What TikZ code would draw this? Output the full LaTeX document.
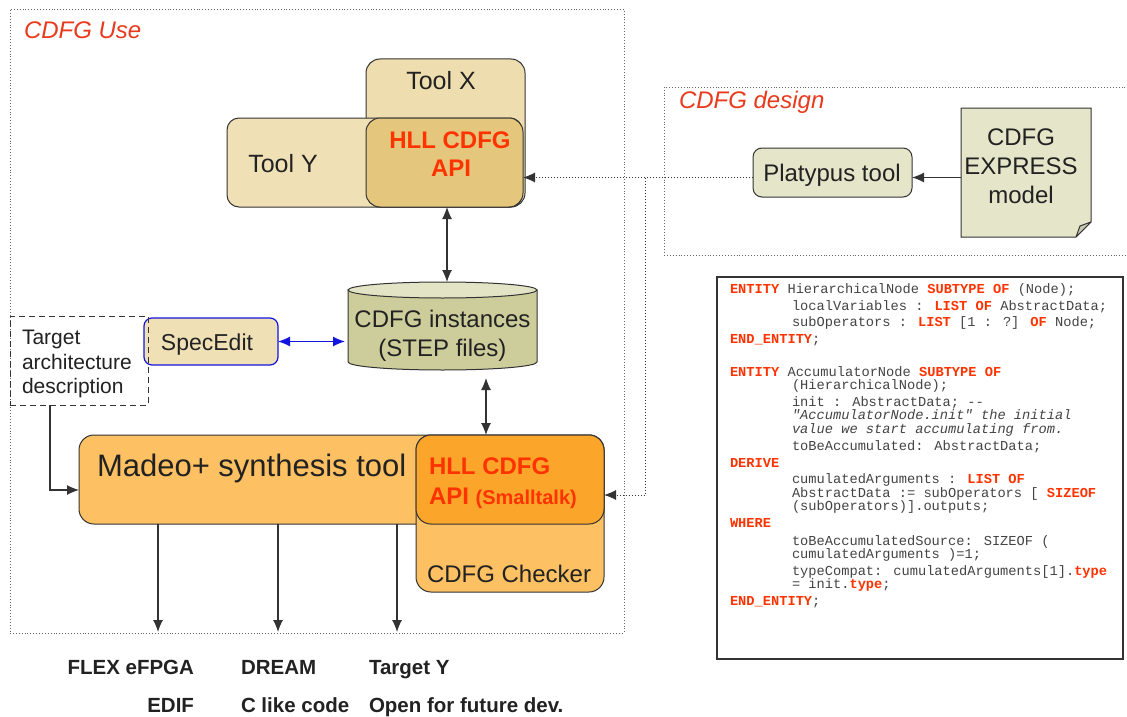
\documentclass[tikz,border=0pt]{standalone}
\usepackage{fontspec}
\setmainfont{Liberation Sans}
\newfontfamily\codefont{Liberation Mono}
\usetikzlibrary{arrows.meta}
\definecolor{dk}{HTML}{333333}
\definecolor{txt}{HTML}{222222}
\definecolor{redt}{HTML}{FF3300}
\definecolor{titler}{HTML}{E83A1C}
\definecolor{dotc}{HTML}{666666}
\definecolor{tanx}{HTML}{EEDDAE}
\definecolor{tany}{HTML}{F0E0B6}
\definecolor{tanapi}{HTML}{E4C67C}
\definecolor{platc}{HTML}{E5E5C9}
\definecolor{foldc}{HTML}{C9C9B0}
\definecolor{cylbody}{HTML}{CDCD9C}
\definecolor{cyltop}{HTML}{E3E3C5}
\definecolor{blueb}{HTML}{1414E0}
\definecolor{orl}{HTML}{FDC062}
\definecolor{ord}{HTML}{FBA62A}
\definecolor{codeg}{HTML}{444444}
\newcommand{\kw}[1]{\textcolor{redt}{\textbf{#1}}}
\newcommand{\fs}[1]{\fontsize{#1}{#1}\selectfont}
\begin{document}
\begin{tikzpicture}[x=1pt,y=-1pt,
  every node/.style={inner sep=0pt,outer sep=0pt},
  shp/.style={draw=dk,line width=1pt},
  lbl/.style={text=txt,anchor=base},
  ttl/.style={text=titler,anchor=base west,font=\fs{24}\itshape},
  redl/.style={text=redt,font=\fs{24}\bfseries},
  dotbox/.style={draw=dotc,dotted,line width=0.9pt},
  dotarr/.style={draw=dk,dotted,line width=1pt,-{Latex[length=12pt,width=10pt]}},
  arr/.style={draw=dk,line width=1.1pt,-{Latex[length=12pt,width=10pt]}},
  darr/.style={draw=dk,line width=1.1pt,{Latex[length=12pt,width=10pt]}-{Latex[length=12pt,width=10pt]}},
  barr/.style={draw=blueb,line width=1.2pt,{Latex[length=12pt,width=10pt]}-{Latex[length=12pt,width=10pt]}},
  code/.style={text=codeg,anchor=base west,font=\codefont\fs{13.7}},
  outl/.style={text=txt,font=\fs{20.5}\bfseries}
]
\useasboundingbox[fill=white] (0,0) rectangle (1127,717);

% group frames
\node[dotbox,minimum width=614,minimum height=624] (usebox) at (317,321) {};
\node[dotbox,minimum width=470,minimum height=168] (designbox) at (899,171) {};
\node[ttl] (usettl) at (24,38.6) {CDFG Use};
\node[ttl] (designttl) at (679,108.6) {CDFG design};

% Tool X / Tool Y / API
\node[shp,fill=tanx,rounded corners=14,minimum width=159,minimum height=148] (toolx) at (445.5,133) {};
\node[shp,fill=tany,rounded corners=12,minimum width=295,minimum height=89] (tooly) at (374.5,162.5) {};
\node[shp,fill=tanapi,rounded corners=14,minimum width=157,minimum height=89] (api) at (444.5,162.5) {};
\node[lbl,font=\fs{25}] (toolxl) at (441,89) {Tool X};
\node[lbl,font=\fs{25}] (toolyl) at (283,172) {Tool Y};
\node[redl,anchor=base] (apil1) at (450,148.6) {HLL CDFG};
\node[redl,anchor=base] (apil2) at (451,176.6) {API};

% Platypus and EXPRESS model
\node[shp,fill=platc,rounded corners=9,minimum width=159,minimum height=49] (plat) at (832.5,172.5) {};
\node[lbl,font=\fs{24}] (platl) at (832,181) {Platypus tool};
\draw[shp,fill=platc] (961,108) -- (1091,108) -- (1091,222) -- (1076,237) -- (961,237) -- cycle;
\draw[shp,fill=foldc,line join=round] (1091,222) -- (1076,237) -- (1080,226) -- cycle;
\node[minimum width=130,minimum height=129] (doc) at (1026,172.5) {};
\node[lbl,font=\fs{24}] (docl1) at (1021,145.6) {CDFG};
\node[lbl,font=\fs{24}] (docl2) at (1021,174.6) {EXPRESS};
\node[lbl,font=\fs{24}] (docl3) at (1021,203.6) {model};

% cylinder
\draw[shp,fill=cylbody] (348,290) -- (348,362) arc[start angle=180,end angle=0,x radius=94.5,y radius=8] -- (537,290) -- cycle;
\draw[shp,fill=cyltop] (442.5,290) ellipse[x radius=94.5,y radius=8];
\node[minimum width=189,minimum height=88] (cyl) at (442.5,326) {};
\node[lbl,font=\fs{24}] (cyll1) at (442.5,327.6) {CDFG instances};
\node[lbl,font=\fs{24}] (cyll2) at (442.5,356.6) {(STEP files)};

% SpecEdit and target
\node[draw=blueb,line width=1.2pt,fill=tany,rounded corners=8,minimum width=134,minimum height=47] (spec) at (211,341.5) {};
\node[lbl,font=\fs{23}] (specl) at (207,350) {SpecEdit};
\node[draw=dk,line width=1pt,dash pattern=on 6pt off 4pt,minimum width=138,minimum height=89] (target) at (79,360.5) {};
\node[lbl,anchor=base west,font=\fs{21}] (tgl1) at (22,344.5) {Target};
\node[lbl,anchor=base west,font=\fs{21}] (tgl2) at (22,369.5) {architecture};
\node[lbl,anchor=base west,font=\fs{21}] (tgl3) at (22,393.5) {description};

% Madeo / checker / API
\node[shp,fill=orl,rounded corners=15,minimum width=525,minimum height=89] (madeo) at (341.5,479.5) {};
\node[shp,fill=orl,rounded corners=15,minimum width=188,minimum height=157] (checker) at (510,513.5) {};
\node[shp,fill=ord,rounded corners=15,minimum width=188,minimum height=89] (mapi) at (510,479.5) {};
\node[lbl,anchor=base west,font=\fs{31}] (madeol) at (97,476) {Madeo+ synthesis tool};
\node[redl,anchor=base west] (mapil1) at (429,474.6) {HLL CDFG};
\node[redl,anchor=base west] (mapil2) at (429,504.6) {API \fs{20}(Smalltalk)};
\node[lbl,anchor=base west,font=\fs{24}] (checkl) at (427,582.6) {CDFG Checker};

% outputs
\node[outl,anchor=base east] (o1a) at (194,674.5) {FLEX eFPGA};
\node[outl,anchor=base east] (o1b) at (194,712.5) {EDIF};
\node[outl,anchor=base west] (o2a) at (241,674.5) {DREAM};
\node[outl,anchor=base west] (o2b) at (241,712.5) {C like code};
\node[outl,anchor=base west] (o3a) at (369,674.5) {Target Y};
\node[outl,anchor=base west] (o3b) at (369,712.5) {Open for future dev.};

% code box
\node[draw=dk,line width=1.3pt,minimum width=406,minimum height=382] (codebox) at (920,468) {};
\node[code] (c1) at (730,293) {\kw{ENTITY} HierarchicalNode \kw{SUBTYPE OF} (Node);};
\node[code] (c2) at (792,310) {localVariables : \kw{LIST OF} AbstractData;};
\node[code] (c3) at (792,326) {subOperators : \kw{LIST} [1 : ?] \kw{OF} Node;};
\node[code] (c4) at (730,343) {\kw{END\_ENTITY};};
\node[code] (c5) at (730,376) {\kw{ENTITY} AccumulatorNode \kw{SUBTYPE OF}};
\node[code] (c6) at (792,389) {(HierarchicalNode);};
\node[code] (c7) at (792,406) {init : AbstractData; --};
\node[code] (c8) at (792,419) {\itshape "AccumulatorNode.init" the initial};
\node[code] (c9) at (792,433) {\itshape value we start accumulating from.};
\node[code] (c10) at (792,450) {toBeAccumulated: AbstractData;};
\node[code] (c11) at (730,467) {\kw{DERIVE}};
\node[code] (c12) at (792,483) {cumulatedArguments : \kw{LIST OF}};
\node[code] (c13) at (792,497) {AbstractData := subOperators [ \kw{SIZEOF}};
\node[code] (c14) at (792,510) {(subOperators)].outputs;};
\node[code] (c15) at (730,527) {\kw{WHERE}};
\node[code] (c16) at (792,545) {toBeAccumulatedSource: SIZEOF (};
\node[code] (c17) at (792,558) {cumulatedArguments )=1;};
\node[code] (c18) at (792,575) {typeCompat: cumulatedArguments[1].\kw{type}};
\node[code] (c19) at (792,588) {= init.\kw{type};};
\node[code] (c20) at (730,605) {\kw{END\_ENTITY};};

% connectors
\coordinate (yl) at (0,177.5);
\coordinate (br1) at (645,177.5);
\coordinate (br2) at (645,495);
\draw[arr] (doc.west |- yl) -- (plat.east |- yl);
\draw[dotarr] (plat.west |- yl) -- (api.east |- yl);
\draw[dotarr] (br1) -- (br2) -- (mapi.east |- br2);
\coordinate (ax1) at (447,0);
\draw[darr] (api.south -| ax1) -- (cyl.north -| ax1);
\coordinate (ax2) at (486,378);
\draw[darr] (ax2) -- (madeo.north -| ax2);
\draw[barr] (spec.east) -- ([xshift=-3pt]spec.east -| cyl.west);
\coordinate (tx) at (50,490);
\draw[arr] (target.south -| tx) -- (tx) -- (madeo.west |- tx);
\coordinate (d1) at (158,632);
\coordinate (d2) at (278,632);
\coordinate (d3) at (397,632);
\draw[arr] (madeo.south -| d1) -- (d1);
\draw[arr] (madeo.south -| d2) -- (d2);
\draw[arr] (madeo.south -| d3) -- (d3);
\end{tikzpicture}
\end{document}
